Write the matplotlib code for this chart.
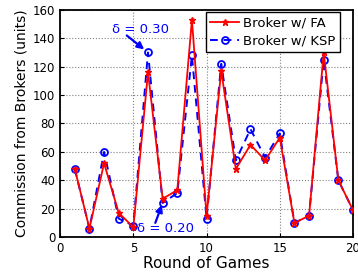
import matplotlib
matplotlib.use('Agg')
import matplotlib.pyplot as plt

# Values
rounds = list(range(1, 21))
fa = [48, 6, 52, 17, 7, 116, 27, 33, 153, 15, 117, 48, 65, 54, 70, 10, 15, 130, 40, 19]
ksp = [48, 6, 60, 13, 8, 130, 24, 31, 128, 13, 122, 54, 76, 56, 73, 10, 15, 125, 40, 19]

fig = plt.figure(figsize=(3.58, 2.75), dpi=100)
ax = fig.add_axes([0.168, 0.138, 0.818, 0.826])

ax.plot(rounds, fa, color='red', linestyle='-', linewidth=1.3,
        marker='*', markersize=4.5, label='Broker w/ FA', zorder=3)
ax.plot(rounds, ksp, color='blue', linestyle='--', linewidth=1.4, dashes=(4, 3),
        marker='o', markersize=5, markerfacecolor='none', markeredgewidth=1.3,
        label='Broker w/ KSP', zorder=2)

# delta annotations: text and arrow drawn separately
ax.text(5.5, 146, 'δ = 0.30', color='blue', fontsize=9.5, ha='center', va='center')
ax.annotate('', xy=(rounds[5], ksp[5]), xytext=(4.55, 142),
            arrowprops=dict(arrowstyle='-|>', color='blue', lw=1.6,
                            shrinkA=0, shrinkB=3.5, mutation_scale=10))
ax.text(7.2, 6, 'δ = 0.20', color='blue', fontsize=9.5, ha='center', va='center')
ax.annotate('', xy=(rounds[6], ksp[6]), xytext=(6.5, 10),
            arrowprops=dict(arrowstyle='-|>', color='blue', lw=1.6,
                            shrinkA=0, shrinkB=1.5, mutation_scale=10))

ax.set_xlim(0, 20)
ax.set_ylim(0, 160)
ax.set_xticks([0, 5, 10, 15, 20])
ax.set_yticks(range(0, 161, 20))
ax.tick_params(labelsize=8.5, direction='in', length=3)
ax.grid(True, color='gray', linestyle=':', linewidth=0.8)
for s in ax.spines.values():
    s.set_linewidth(1.3)

ax.set_xlabel('Round of Games', fontsize=11, labelpad=1)
ax.set_ylabel('Commission from Brokers (units)', fontsize=10, labelpad=3)

leg = ax.legend(loc='upper right', bbox_to_anchor=(0.956, 0.991), borderaxespad=0,
                fontsize=9.5, numpoints=1, fancybox=False,
                framealpha=1, edgecolor='black', borderpad=0.35,
                handlelength=2.2, handletextpad=0.3, labelspacing=0.4)
leg.get_frame().set_linewidth(1.0)

fig.savefig('out.png', dpi=100)
